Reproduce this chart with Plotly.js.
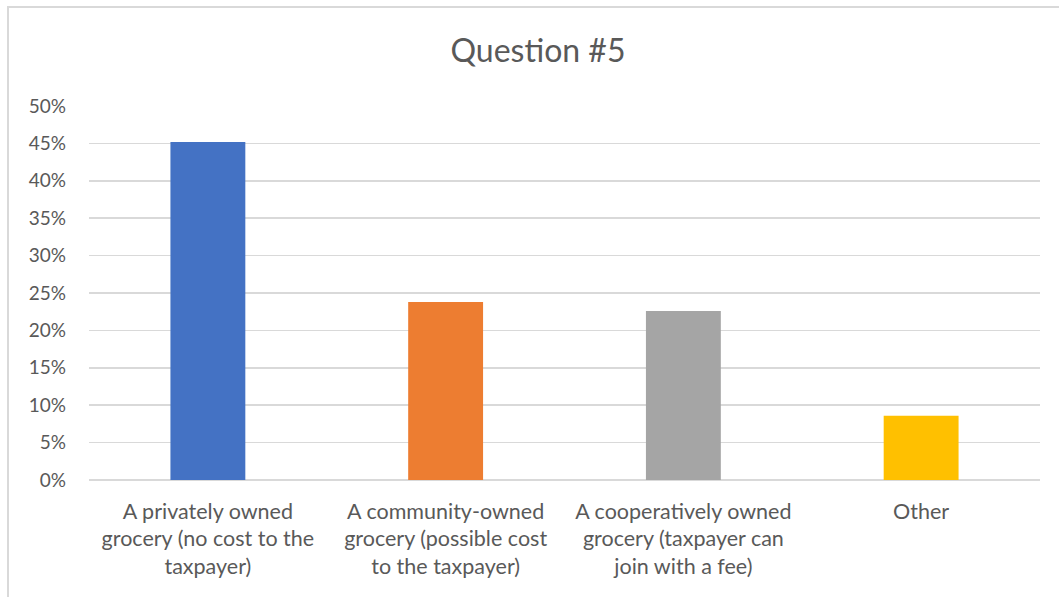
<!DOCTYPE html>
<html>
<head>
<meta charset="utf-8">
<script src="https://cdn.plot.ly/plotly-3.0.1.min.js"></script>
<style>
  html, body { margin: 0; padding: 0; background: #ffffff; }
  #wrap { position: relative; width: 1059px; height: 597px; }
  #chart { width: 1059px; height: 597px; }
  #frame { position: absolute; left: 7px; top: 6px; right: 0; bottom: 0;
           border-top: 2px solid #d9d9d9; border-left: 2px solid #d9d9d9;
           pointer-events: none; }
</style>
</head>
<body>
<div id="wrap">
  <div id="chart"></div>
  <div id="frame"></div>
</div>
<script>
const categories = [
  "A privately owned<br>grocery (no cost to the<br>taxpayer)",
  "A community-owned<br>grocery (possible cost<br>to the taxpayer)",
  "A cooperatively owned<br>grocery (taxpayer can<br>join with a fee)",
  "Other"
];
const values = [0.452, 0.238, 0.226, 0.086];
const barColors = ["#4472c4", "#ed7d31", "#a5a5a5", "#ffc000"];
const yTickVals = [0, 0.05, 0.10, 0.15, 0.20, 0.25, 0.30, 0.35, 0.40, 0.45, 0.50];
const yTickText = ["0%", "5%", "10%", "15%", "20%", "25%", "30%", "35%", "40%", "45%", "50%"];

const fontFam = "Lato, 'Open Sans', sans-serif";

const trace = {
  type: "bar",
  x: categories,
  y: values,
  marker: { color: barColors, line: { width: 0 } },
  hoverinfo: "x+y"
};

const layout = {
  width: 1059,
  height: 597,
  margin: { l: 89, r: 19, t: 106, b: 117 },
  paper_bgcolor: "#ffffff",
  plot_bgcolor: "#ffffff",
  bargap: 0.685,
  showlegend: false,
  title: {
    text: "Question #5",
    font: { family: fontFam, size: 32, color: "#595959" },
    x: 0.508, xanchor: "center",
    y: 0.915, yanchor: "middle"
  },
  xaxis: {
    type: "category",
    tickfont: { family: fontFam, size: 21.5, color: "#595959" },
    showgrid: false,
    zeroline: false,
    showline: false,
    ticks: "",
    ticklabelstandoff: 16
  },
  yaxis: {
    range: [0, 0.5],
    tickvals: yTickVals,
    ticktext: yTickText,
    tickfont: { family: fontFam, size: 19, color: "#595959" },
    showgrid: true,
    gridcolor: "#d9d9d9",
    gridwidth: 1.5,
    zeroline: true,
    zerolinecolor: "#d9d9d9",
    zerolinewidth: 1.5,
    showline: false,
    ticks: "",
    ticklabelstandoff: 22
  }
};

Plotly.newPlot("chart", [trace], layout, { displayModeBar: false, staticPlot: true });
</script>
</body>
</html>
